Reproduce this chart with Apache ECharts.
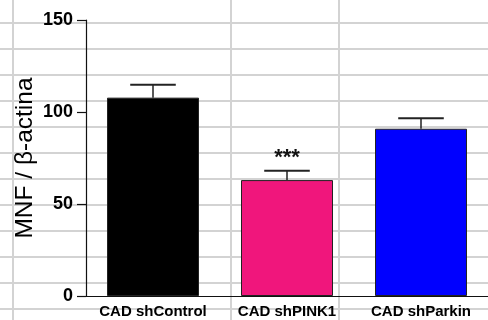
<!DOCTYPE html>
<html>
<head>
<meta charset="utf-8">
<script src="https://cdn.jsdelivr.net/npm/echarts@6/dist/echarts.min.js"></script>
<style>
  html, body { margin: 0; padding: 0; background: #fff; }
  /* spreadsheet-style cell lines behind the chart */
  #chart {
    width: 488px; height: 320px;
    background-color: #fff;
    background-image:
      linear-gradient(to right, transparent 12px, #d3d3d3 12px, #d3d3d3 14px, transparent 14px),
      linear-gradient(to right, transparent 230px, #d3d3d3 230px, #d3d3d3 232px, transparent 232px),
      linear-gradient(to right, transparent 338px, #d3d3d3 338px, #d3d3d3 340px, transparent 340px),
      repeating-linear-gradient(to bottom, transparent 0px, transparent 22px, #d3d3d3 22px, #d3d3d3 24px, transparent 24px, transparent 26px);
  }
</style>
</head>
<body>
<div id="chart"></div>
<script>
// Groups and measured values (mean, SEM)
const categories = ['CAD shControl', 'CAD shPINK1', 'CAD shParkin'];
const means = [107.8, 63.0, 90.9];
const sems = [7.0, 5.1, 5.7];
const barColors = ['#000000', '#f0167c', '#0000ff'];
const significance = ['', '***', ''];
const yTicks = { min: 0, max: 150, interval: 50 };

const FONT = '"Liberation Sans", Arial, sans-serif';

const chart = echarts.init(document.getElementById('chart'), null, { renderer: 'canvas' });

chart.setOption({
  animation: false,
  backgroundColor: 'transparent',
  grid: { left: 86, top: 20, bottom: 24, right: -10.5, containLabel: false },
  xAxis: {
    type: 'category',
    data: categories,
    axisLine: { show: true, lineStyle: { color: '#111', width: 1.2 } },
    axisTick: { show: false },
    axisLabel: { color: '#000', fontFamily: FONT, fontWeight: 'bold', fontSize: 15, margin: 8, interval: 0 }
  },
  yAxis: {
    type: 'value',
    min: yTicks.min, max: yTicks.max, interval: yTicks.interval,
    name: 'MNF / β-actina',
    nameLocation: 'middle',
    nameGap: 48,
    nameMoveOverlap: false,
    nameTextStyle: { color: '#000', fontFamily: FONT, fontSize: 24.5 },
    axisLine: { show: true, lineStyle: { color: '#111', width: 1.2 } },
    axisTick: { show: true, length: 9, lineStyle: { color: '#111', width: 1.2 } },
    axisLabel: { color: '#000', fontFamily: FONT, fontWeight: 'bold', fontSize: 18, margin: 13 },
    splitLine: { show: false }
  },
  series: [
    {
      type: 'bar',
      barWidth: 92,
      data: means.map((v, i) => ({
        value: v,
        itemStyle: { color: barColors[i], borderColor: '#222', borderWidth: 1 }
      }))
    },
    {
      // SEM whiskers (upper only) and significance marks
      type: 'custom',
      data: means.map((v, i) => [i, v, sems[i]]),
      renderItem: function (params, api) {
        const i = api.value(0);
        const top = api.coord([i, api.value(1)]);
        const hi = api.coord([i, api.value(1) + api.value(2)]);
        const band = api.size([1, 0])[0];
        const half = band * 0.17;
        const children = [
          { type: 'line', shape: { x1: hi[0], y1: top[1], x2: hi[0], y2: hi[1] },
            style: { stroke: '#222', lineWidth: 1.5 } },
          { type: 'line', shape: { x1: hi[0] - half, y1: hi[1], x2: hi[0] + half, y2: hi[1] },
            style: { stroke: '#222', lineWidth: 2 } }
        ];
        const mark = significance[i];
        if (mark) {
          children.push({
            type: 'text',
            style: {
              text: mark, x: hi[0], y: hi[1] - 2,
              textAlign: 'center', textVerticalAlign: 'bottom',
              font: 'bold 22px ' + FONT, fill: '#111'
            }
          });
        }
        return { type: 'group', children: children };
      },
      z: 5
    }
  ]
});
</script>
</body>
</html>
